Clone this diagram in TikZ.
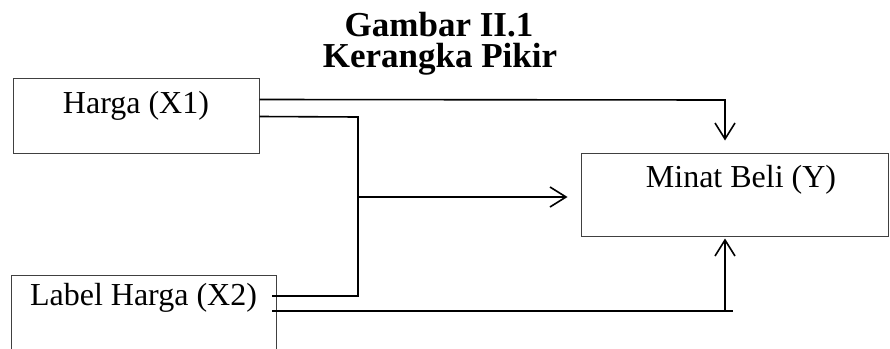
\documentclass[tikz,border=0pt]{standalone}
\usepackage{fontspec}
\setmainfont{Liberation Serif}
\usetikzlibrary{arrows.meta,calc}
\begin{document}
\begin{tikzpicture}[x=1pt,y=-1pt,
  box/.style={draw=black!75, line width=1pt, rectangle, inner sep=0pt},
  lbl/.style={font=\fontsize{32}{38}\selectfont, inner sep=0pt, anchor=base},
  ttl/.style={font=\bfseries\fontsize{35}{40}\selectfont, inner sep=0pt, anchor=base},
  conn/.style={line width=1.6pt},
  arr/.style={conn, -{Straight Barb[length=16pt,width=20pt,line width=1.6pt]}},
]
\useasboundingbox (0,0) rectangle (890,348);
\clip (0,0) rectangle (890,348);
% title
\node[ttl] (t1) at (439,36.5) {Gambar II.1};
\node[ttl] (t2) at (440,67.5) {Kerangka Pikir};
% boxes
\node[box, minimum width=246pt, minimum height=75pt] (x1) at (136,115.5) {};
\node[box, minimum width=265pt, minimum height=105pt] (x2) at (143.5,327.5) {};
\node[box, minimum width=307pt, minimum height=83pt] (y) at (734.5,194.5) {};
% labels
\node[lbl] (lx1) at (136,113) {Harga (X1)};
\node[lbl] (lx2) at (143.5,305) {Label Harga (X2)};
\node[lbl] (ly) at (741,187) {Minat Beli (Y)};
% connectors
\coordinate (a0) at ($(x1.north east)+(0,22)$);
\coordinate (a1) at (725,100);
\draw[arr, shorten >=12pt] (a0) -- (a1) -- (a1 |- y.north);
\coordinate (b0) at ($(x1.north east)+(0,39)$);
\coordinate (b1) at (358,117);
\coordinate (b2) at (358,296);
\coordinate (b3) at (272,296);
\draw[conn] (b0) -- (b1) -- (b2) -- (b3);
\coordinate (m0) at (358,197);
\draw[arr, shorten >=13pt] (m0) -- (m0 -| y.west);
\coordinate (c0) at (272,311);
\coordinate (c1) at (733,311);
\draw[conn] (c0) -- (c1);
\coordinate (c2) at (725,311);
\draw[arr, shorten >=2pt] (c2) -- (c2 |- y.south);
\end{tikzpicture}
\end{document}
